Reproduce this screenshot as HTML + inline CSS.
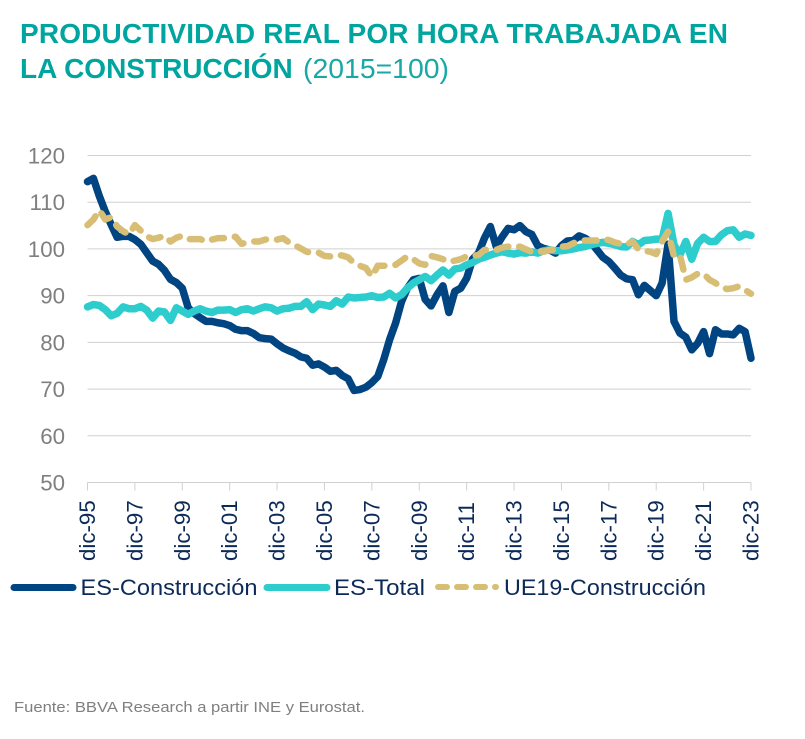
<!DOCTYPE html>
<html lang="es">
<head>
<meta charset="utf-8">
<title>Productividad real por hora trabajada en la construcción</title>
<style>
html,body{margin:0;padding:0;background:#fff;width:805px;height:739px;overflow:hidden}
svg{display:block;font-family:"Liberation Sans",Arial,sans-serif}
</style>
</head>
<body>
<svg id="chart" xmlns="http://www.w3.org/2000/svg" width="805" height="739" viewBox="0 0 805 739">
  <rect x="0" y="0" width="805" height="739" fill="#ffffff"/>
  <text x="20" y="43" font-size="28" font-weight="700" fill="#00a5a0" textLength="708" lengthAdjust="spacing">PRODUCTIVIDAD REAL POR HORA TRABAJADA EN</text>
  <text x="20" y="78" font-size="28" font-weight="700" fill="#00a5a0">LA CONSTRUCCIÓN</text>
  <text x="303" y="78" font-size="28" fill="#18a9a5" textLength="146" lengthAdjust="spacingAndGlyphs">(2015=100)</text>
  <g id="grid"></g>
  <g id="ylabels"></g>
  <g id="xaxis"></g>
  <g id="series"></g>
  <g>
    <line x1="14" y1="587.5" x2="73" y2="587.5" stroke="#004481" stroke-width="7" stroke-linecap="round"/>
    <text x="80.5" y="595" font-size="22.5" fill="#0c2a58" textLength="177" lengthAdjust="spacingAndGlyphs">ES-Construcción</text>
    <line x1="267" y1="587.5" x2="327" y2="587.5" stroke="#2dcccd" stroke-width="7" stroke-linecap="round"/>
    <text x="334" y="595" font-size="22.5" fill="#0c2a58" textLength="91" lengthAdjust="spacingAndGlyphs">ES-Total</text>
    <line x1="438" y1="587" x2="496" y2="587" stroke="#d8be75" stroke-width="6" stroke-linecap="round" stroke-dasharray="9 10"/>
    <text x="504" y="595" font-size="22.5" fill="#0c2a58" textLength="202" lengthAdjust="spacingAndGlyphs">UE19-Construcción</text>
  </g>
  <text x="14" y="712" font-size="14.5" fill="#7f7f7f" textLength="351" lengthAdjust="spacingAndGlyphs">Fuente: BBVA Research a partir INE y Eurostat.</text>
</svg>
<script>
// Quarterly values, dic-95 to dic-23 (2015=100)
const yTicks = [120, 110, 100, 90, 80, 70, 60, 50];
const xTickLabels = ["dic-95","dic-97","dic-99","dic-01","dic-03","dic-05","dic-07","dic-09","dic-11","dic-13","dic-15","dic-17","dic-19","dic-21","dic-23"];
const esConstruccion = [114.4,115.1,111.3,108,105.2,102.5,102.7,102.7,102,101,99.2,97.4,96.7,95.4,93.5,92.8,91.6,87.4,86.2,85.3,84.5,84.5,84.2,84,83.6,82.8,82.5,82.5,81.9,81,80.8,80.7,79.7,78.8,78.2,77.7,76.9,76.6,75.1,75.4,74.7,73.8,74,72.9,72.2,69.7,69.9,70.4,71.4,72.7,76.3,80.6,84.1,88.7,91.6,93.4,93.7,89.2,87.8,90.2,92.1,86.4,90.9,91.6,93.7,97.8,99.1,102.3,104.8,100.5,102.6,104.4,104.1,105,103.7,103.1,100.7,100.1,99.8,99.1,100.7,101.7,101.8,102.8,102.3,101.4,99.8,98.2,97.3,95.9,94.4,93.6,93.4,90.2,92.2,91.1,90,92.7,101,84.5,82,81.1,78.4,79.8,82.3,77.6,82.7,81.8,81.8,81.6,83,82.3,76.6];
const esTotal = [87.6,88.1,87.9,87,85.7,86.2,87.6,87.2,87.2,87.7,86.9,85.2,86.7,86.5,84.7,87.4,86.7,86,86.7,87.2,86.7,86.4,86.9,86.9,87,86.4,87,87.2,86.7,87.2,87.6,87.4,86.7,87.2,87.3,87.7,87.7,88.7,87,88.2,88,87.7,88.9,88.2,89.7,89.5,89.6,89.7,90,89.6,89.7,90.5,89.5,90.2,91.6,92.7,93.4,94.1,93.2,94.4,95.5,94.4,95.7,95.9,96.6,97.1,97.8,98.2,98.7,99.1,99.4,99.1,98.9,99.2,99.1,99.4,99.1,99.6,99.8,99.6,99.6,99.8,100,100.3,100.5,100.9,101.2,101.4,101.2,100.9,100.5,100.4,101.6,100.9,101.8,101.9,102.1,102.1,107.6,100.9,98.7,101.6,97.8,101.2,102.5,101.6,101.6,103,103.9,104.1,102.5,103.2,102.9];
const ue19Construccion = [105.1,106.3,108.3,106.3,106.8,104.8,103.8,103.1,105.1,103.9,102.7,102.1,102.4,102.8,101.6,102.4,102.8,102.1,102.1,102.1,101.6,102,102.3,102.3,102.6,102.6,101.1,101.4,101.6,101.6,102,102.1,102,102.3,101.4,100.8,100.1,99.4,99.1,99.2,98.5,98.4,98.7,98.6,98.2,96.9,96.4,95.9,94.1,96.4,96.4,96.4,96.6,97.5,98.4,97.8,96.9,96.6,98.5,98.2,97.8,97.2,97.5,97.8,98.4,98.5,98.7,99.8,99.8,99.8,100.3,100.5,100.5,100.5,99.9,99.4,99.6,99.4,99.8,99.8,100.5,100.6,101.2,101.8,101.8,101.8,101.8,102.1,101.9,101.4,101.1,100.9,101.6,99.9,99.6,99.4,98.9,101.6,103.7,98.4,98.7,93.4,93.9,94.7,94.7,93.4,92.7,91.8,91.4,91.6,92,91.2,90.4];

const SVG_NS = "http://www.w3.org/2000/svg";
const plot = { left: 87.5, right: 751, top: 155.5, bottom: 482.5 };
const yMax = yTicks[0];
const yMin = yTicks[yTicks.length - 1];
const quarterCount = esConstruccion.length;

function xScale(i) {
  return plot.left + (plot.right - plot.left) * i / (quarterCount - 1);
}
function yScale(v) {
  return plot.top + (plot.bottom - plot.top) * (yMax - v) / (yMax - yMin);
}
function make(tag, attrs) {
  const el = document.createElementNS(SVG_NS, tag);
  for (const k in attrs) el.setAttribute(k, attrs[k]);
  return el;
}
function pathFor(values) {
  return values.map((v, i) => (i ? "L" : "M") + xScale(i).toFixed(2) + " " + yScale(v).toFixed(2)).join("");
}

const grid = document.getElementById("grid");
const ylabels = document.getElementById("ylabels");
yTicks.forEach((t) => {
  const y = yScale(t);
  const line = make("line", { x1: plot.left, x2: plot.right, y1: y, y2: y, stroke: "#d0d0d0", "stroke-width": 1 });
  
  
  grid.appendChild(line);
  const label = make("text", { x: 65, y: y + 8, "text-anchor": "end", "font-size": 22.3, fill: "#7f7f7f" });
  
  
  label.textContent = t;
  ylabels.appendChild(label);
});

const xaxis = document.getElementById("xaxis");
xTickLabels.forEach((name, n) => {
  const x = xScale(n * (quarterCount - 1) / (xTickLabels.length - 1));
  const tick = make("line", { x1: x, x2: x, y1: plot.bottom, y2: plot.bottom + 8, stroke: "#d0d0d0", "stroke-width": 1 });
  
  
  xaxis.appendChild(tick);
  const label = make("text", {
    transform: "translate(" + (x + 7.5) + " 561) rotate(-90)",
    "font-size": 22.3,
    fill: "#0c2a58"
  });
  
  
  label.textContent = name;
  xaxis.appendChild(label);
});

const seriesGroup = document.getElementById("series");
const navy = make("path", { d: pathFor(esConstruccion), fill: "none", stroke: "#004481", "stroke-width": 7.5, "stroke-linejoin": "round", "stroke-linecap": "round" });


seriesGroup.appendChild(navy);
const teal = make("path", { d: pathFor(esTotal), fill: "none", stroke: "#2dcccd", "stroke-width": 7.5, "stroke-linejoin": "round", "stroke-linecap": "round" });


seriesGroup.appendChild(teal);
const gold = make("path", { d: pathFor(ue19Construccion), fill: "none", stroke: "#d8be75", "stroke-width": 6.5, "stroke-linejoin": "round", "stroke-linecap": "round", "stroke-dasharray": "12 11" });


seriesGroup.appendChild(gold);
</script>
</body>
</html>
